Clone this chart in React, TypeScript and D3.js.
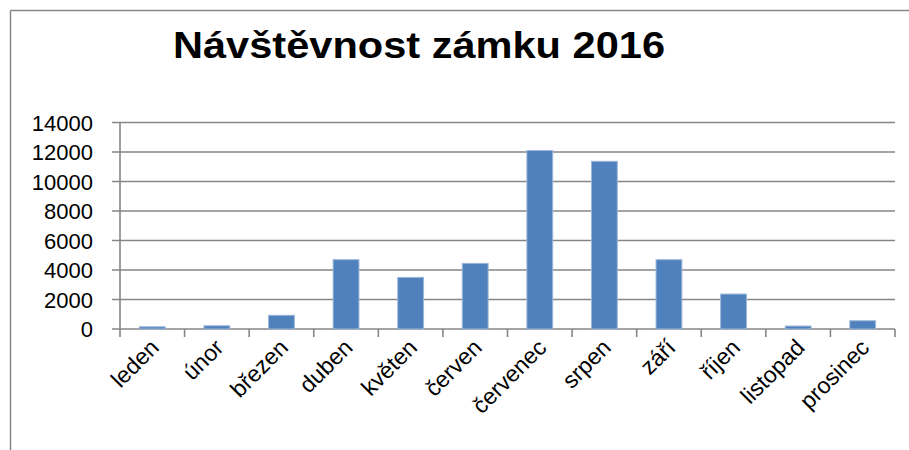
import React from 'react'
import * as d3 from 'd3'

const months = ['leden', 'únor', 'březen', 'duben', 'květen', 'červen', 'červenec', 'srpen', 'září', 'říjen', 'listopad', 'prosinec']
const visitors = [150, 220, 930, 4700, 3500, 4450, 12100, 11370, 4700, 2370, 200, 560]
const yTicks = [0, 2000, 4000, 6000, 8000, 10000, 12000, 14000]

const W = 909
const H = 450
const left = 120
const right = 895
const top = 122.5
const bottom = 329
const font = '"Liberation Sans", Arial, sans-serif'
const grey = '#868686'

const App = () => {
  const x = d3.scaleBand().domain(months).range([left, right]).paddingInner(0.6).paddingOuter(0.3)
  const y = d3.scaleLinear().domain([0, 14000]).range([bottom, top])
  const bounds = d3.range(months.length + 1).map(i => left + i * ((right - left) / months.length))

  return (
    <svg width={W} height={H} style={{ position: 'absolute', left: 0, top: 0, background: '#fff' }}>
      <rect x={0} y={0} width={W} height={H} fill='#fff' />
      {/* chart frame */}
      <line x1={10.5} y1={10.5} x2={W} y2={10.5} stroke={grey} strokeWidth={1.5} />
      <line x1={10.5} y1={10.5} x2={10.5} y2={H} stroke={grey} strokeWidth={1.5} />

      <text x={173} y={58} fontFamily={font} fontWeight='bold' fontSize={37}
        textLength={492} lengthAdjust='spacingAndGlyphs' fill='#000'>Návštěvnost zámku 2016</text>

      {yTicks.map(t => (
        <g key={t}>
          <line x1={112} x2={right} y1={y(t)} y2={y(t)} stroke={grey} strokeWidth={1.6} />
          <text x={93} y={y(t) + 8} textAnchor='end' fontFamily={font} fontSize={22} fill='#000'>{t}</text>
        </g>
      ))}
      <line x1={left} x2={left} y1={top} y2={bottom} stroke={grey} strokeWidth={1.6} />
      {bounds.map((b, i) => (
        <line key={i} x1={b} x2={b} y1={bottom} y2={bottom + 8} stroke={grey} strokeWidth={1.6} />
      ))}

      {months.map((m, i) => (
        <rect key={m} x={x(m)} y={y(visitors[i])} width={x.bandwidth()} height={bottom - y(visitors[i])}
          fill='#4F81BD' stroke='#9DB7D8' strokeWidth={1} />
      ))}

      {months.map(m => {
        const cx = (x(m) as number) + x.bandwidth() / 2 + 8
        const cy = bottom + 20
        return (
          <text key={m} x={cx} y={cy} textAnchor='end' fontFamily={font} fontSize={23} fill='#000'
            transform={`rotate(-45 ${cx} ${cy})`}>{m}</text>
        )
      })}
    </svg>
  )
}

export default App
